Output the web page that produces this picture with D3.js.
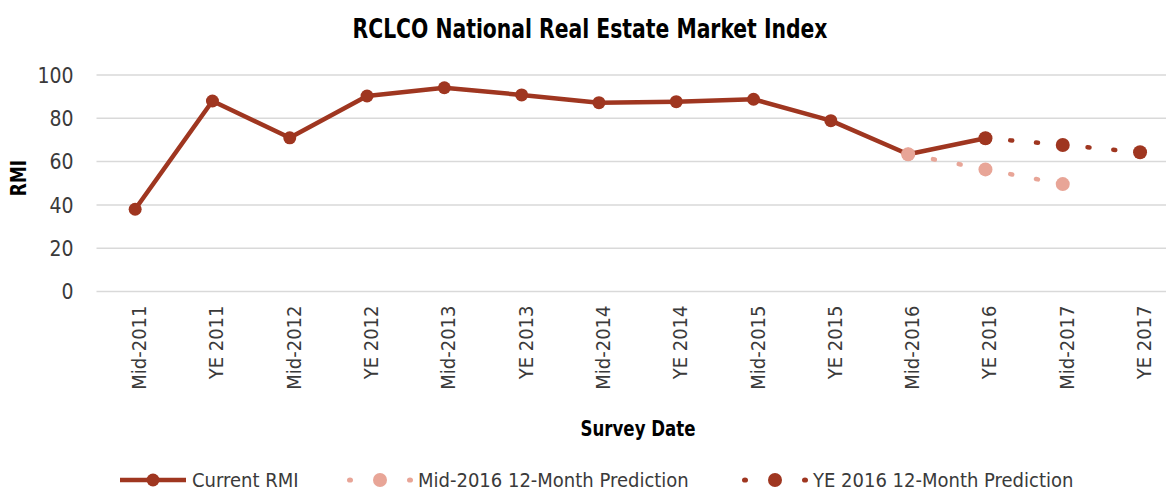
<!DOCTYPE html>
<html>
<head>
<meta charset="utf-8">
<script src="https://cdn.jsdelivr.net/npm/d3@7"></script>
<style>
  body { margin: 0; background: #fff; overflow: hidden; }
  svg { display: block; }
  svg text { font-family: "DejaVu Sans", sans-serif; font-stretch: condensed; }
  .axis path, .axis line { display: none; }
  .grid line { stroke: #d9d9d9; stroke-width: 1.5; }
</style>
</head>
<body>
<div id="chart"></div>
<script>
const categories = ['Mid-2011', 'YE 2011', 'Mid-2012', 'YE 2012', 'Mid-2013', 'YE 2013', 'Mid-2014',
  'YE 2014', 'Mid-2015', 'YE 2015', 'Mid-2016', 'YE 2016', 'Mid-2017', 'YE 2017'];
const currentRMI = [38, 88, 71, 90.3, 94.1, 90.8, 87.2, 87.7, 88.8, 78.9, 63.4, 70.8];
const mid2016Prediction = [
  { key: 'Mid-2016', value: 63.4 },
  { key: 'YE 2016', value: 56.4 },
  { key: 'Mid-2017', value: 49.6 },
];
const ye2016Prediction = [
  { key: 'YE 2016', value: 70.8 },
  { key: 'Mid-2017', value: 67.7 },
  { key: 'YE 2017', value: 64.3 },
];
const yTicks = [0, 20, 40, 60, 80, 100];

const dark = '#9f3620';
const light = '#e8a597';

const width = 1166;
const height = 491;
const margin = { top: 75, left: 96.5, bottom: 199.5 };

const svg = d3
  .select('#chart')
  .append('svg')
  .attr('width', width)
  .attr('height', height);

const x = d3
  .scaleBand()
  .domain(categories)
  .range([margin.left, margin.left + 77.3 * categories.length]);

const y = d3
  .scaleLinear()
  .domain([0, 100])
  .range([height - margin.bottom, margin.top]);

const cx = k => x(k) + x.bandwidth() / 2;

// title (bold has no condensed face, so squeeze it)
svg
  .append('text')
  .attr('transform', 'translate(590,38) scale(0.87,1)')
  .attr('text-anchor', 'middle')
  .attr('font-size', 26)
  .attr('font-weight', 'bold')
  .text('RCLCO National Real Estate Market Index');

// grid
svg
  .append('g')
  .attr('class', 'grid')
  .selectAll('line')
  .data(yTicks)
  .join('line')
  .attr('x1', margin.left)
  .attr('x2', width)
  .attr('y1', d => y(d))
  .attr('y2', d => y(d));

// y axis
svg
  .append('g')
  .attr('class', 'y axis')
  .attr('transform', `translate(${margin.left - 23},0)`)
  .call(d3.axisLeft(y).tickValues(yTicks).tickSize(0).tickPadding(0))
  .call(g => g.selectAll('text').attr('font-size', 21).attr('fill', '#3a3a3a').attr('dy', '0.35em'));

svg
  .append('text')
  .attr('transform', 'translate(26,178) rotate(-90) scale(0.9,1)')
  .attr('text-anchor', 'middle')
  .attr('font-size', 21)
  .attr('font-weight', 'bold')
  .text('RMI');

// x axis
svg
  .append('g')
  .attr('class', 'x axis')
  .attr('transform', `translate(0,${y(0)})`)
  .call(d3.axisBottom(x).tickSize(0))
  .call(g =>
    g
      .selectAll('text')
      .attr('font-size', 20)
      .attr('fill', '#3a3a3a')
      .attr('text-anchor', 'end')
      .attr('transform', 'rotate(-90)')
      .attr('x', -14)
      .attr('y', 4)
      .attr('dy', '0.35em')
  );

svg
  .append('text')
  .attr('transform', 'translate(638,436) scale(0.88,1)')
  .attr('text-anchor', 'middle')
  .attr('font-size', 21)
  .attr('font-weight', 'bold')
  .text('Survey Date');

// current RMI line
const current = currentRMI.map((v, i) => ({ key: categories[i], value: v }));
const line = d3
  .line()
  .x(d => cx(d.key))
  .y(d => y(d.value));

svg
  .append('path')
  .attr('d', line(current))
  .attr('fill', 'none')
  .attr('stroke', dark)
  .attr('stroke-width', 4.5)
  .attr('stroke-linejoin', 'round');

svg
  .append('g')
  .selectAll('circle')
  .data(current)
  .join('circle')
  .attr('cx', d => cx(d.key))
  .attr('cy', d => y(d.value))
  .attr('r', 6.5)
  .attr('fill', dark);

// dotted prediction series
function dotted(data, color) {
  const g = svg.append('g');
  d3.pairs(data).forEach(([a, b]) => {
    const x1 = cx(a.key), y1 = y(a.value), x2 = cx(b.key), y2 = y(b.value);
    const len = Math.hypot(x2 - x1, y2 - y1);
    g.append('line')
      .attr('x1', x1).attr('y1', y1).attr('x2', x2).attr('y2', y2)
      .attr('stroke', color)
      .attr('stroke-width', 4.5)
      .attr('stroke-linecap', 'round')
      .attr('stroke-dasharray', `2 ${len / 3 - 2}`)
      .attr('stroke-dashoffset', 1);
  });
  g.selectAll('circle')
    .data(data)
    .join('circle')
    .attr('cx', d => cx(d.key))
    .attr('cy', d => y(d.value))
    .attr('r', 7)
    .attr('fill', color);
}
dotted(mid2016Prediction, light);
dotted(ye2016Prediction, dark);

// legend
const legendY = 480;
const legend = svg.append('g').attr('font-size', 20).attr('fill', '#3a3a3a');

legend.append('line')
  .attr('x1', 120).attr('x2', 186).attr('y1', legendY).attr('y2', legendY)
  .attr('stroke', dark).attr('stroke-width', 4.5);
legend.append('circle').attr('cx', 153).attr('cy', legendY).attr('r', 6.5).attr('fill', dark);
legend.append('text').attr('x', 192).attr('y', legendY).attr('dy', '0.35em').text('Current RMI');

[
  { x0: 350, color: light, label: 'Mid-2016 12-Month Prediction' },
  { x0: 745, color: dark, label: 'YE 2016 12-Month Prediction' },
].forEach(item => {
  legend.append('ellipse').attr('cx', item.x0).attr('cy', legendY).attr('rx', 3).attr('ry', 2.6).attr('fill', item.color);
  legend.append('circle').attr('cx', item.x0 + 30).attr('cy', legendY).attr('r', 7).attr('fill', item.color);
  legend.append('ellipse').attr('cx', item.x0 + 60).attr('cy', legendY).attr('rx', 3).attr('ry', 2.6).attr('fill', item.color);
  legend.append('text').attr('x', item.x0 + 68).attr('y', legendY).attr('dy', '0.35em').text(item.label);
});
</script>
</body>
</html>
